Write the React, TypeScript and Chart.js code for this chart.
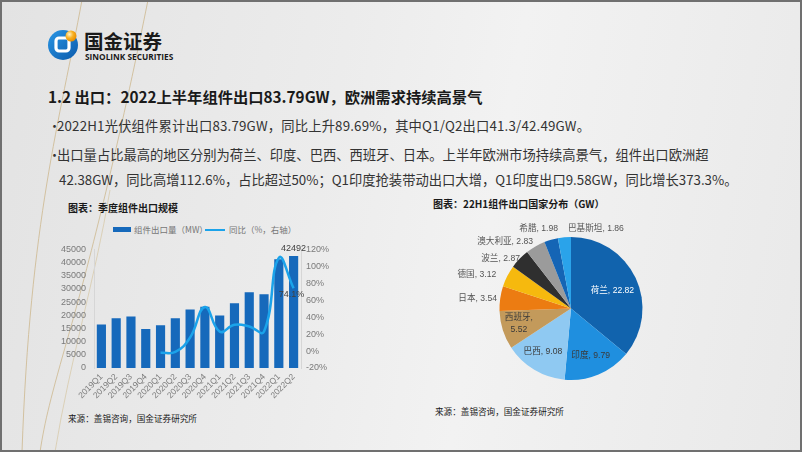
import React, { useEffect, useRef } from "react";
import { Chart, registerables } from "chart.js";

Chart.register(...registerables);

// ---------- data ----------
const quarters = [
  "2019Q1", "2019Q2", "2019Q3", "2019Q4",
  "2020Q1", "2020Q2", "2020Q3", "2020Q4",
  "2021Q1", "2021Q2", "2021Q3", "2021Q4",
  "2022Q1", "2022Q2",
];
const exportVolumeMW = [
  16500, 18900, 19500, 14800,
  16200, 18900, 22200, 23200,
  19900, 24600, 28700, 28000,
  41300, 42492,
];
const yoyPct = [
  null, null, null, null,
  -2, -1, 16, 52,
  23, 31, 29, 23,
  110, 74.1,
];
const leftTicksMax = 45000;
const leftTicksStep = 5000;
const rightTicksMin = -20;
const rightTicksMax = 120;
const rightTicksStep = 20;

const pieCountries = ["荷兰", "印度", "巴西", "西班牙", "日本", "德国", "波兰", "澳大利亚", "希腊", "巴基斯坦"];
const pieValuesGW = [22.82, 9.79, 9.08, 5.52, 3.54, 3.12, 2.87, 2.83, 1.98, 1.86];

// ---------- styles ----------
const BAR_COLOR = "#1669bb";
const LINE_COLOR = "#1ba3ea";
const pieColors = [
  "#1163ad", "#1f8fdf", "#8fc9f2", "#c39a5b", "#ec7c12",
  "#f6b90e", "#2f2f2f", "#9b9b9b", "#1565b5", "#2aa3ea",
];
const pieLabelStyle: any[] = [
  { mode: "in", r: 0.64, color: "#ffffff", dx: 0, dy: 2 },
  { mode: "in", r: 0.715, color: "#3a3a3a", dx: 0, dy: 0 },
  { mode: "in", r: 0.71, color: "#3a3a3a", dx: -2, dy: 0 },
  { mode: "in", r: 0.765, color: "#3a3a3a", dx: 0, dy: -1, wrap: true },
  { mode: "out", r: 1.08, align: "right", dx: 2.5, dy: 1 },
  { mode: "out", r: 1.08, align: "right", dx: -6, dy: 1.5 },
  { mode: "out", r: 1.08, align: "right", dx: 4.5, dy: 4 },
  { mode: "out", r: 1.08, align: "right", dx: 0.5, dy: 0 },
  { mode: "out", r: 1.08, align: "right", dx: 8.5, dy: -5.4 },
  { mode: "out", r: 1.0, align: "left", dx: 3.6, dy: -8.3 },
];
const TICK_FONT = { family: '"Liberation Sans", "Noto Sans CJK SC", sans-serif', size: 9 };
const LABEL_FONT = '8.6px "Liberation Sans", "Noto Sans CJK SC", sans-serif';

const barLabelPlugin = {
  id: "barLabels",
  afterDatasetsDraw(chart: any) {
    const ctx = chart.ctx;
    ctx.save();
    ctx.font = '9px "Liberation Sans", sans-serif';
    ctx.fillStyle = "#404040";
    ctx.textAlign = "center";
    const barMeta = chart.getDatasetMeta(0);
    const last = exportVolumeMW.length - 1;
    const b = barMeta.data[last];
    ctx.textBaseline = "bottom";
    ctx.fillText(String(exportVolumeMW[last]), b.x, b.y - 3);
    const lineMeta = chart.getDatasetMeta(1);
    const p = lineMeta.data[last];
    ctx.textBaseline = "middle";
    ctx.fillText(`${yoyPct[last]}%`, p.x - 2, p.y + 6);
    ctx.restore();
  },
};

const pieLabelPlugin = {
  id: "pieLabels",
  afterDatasetsDraw(chart: any) {
    const ctx = chart.ctx;
    const meta = chart.getDatasetMeta(0);
    ctx.save();
    ctx.font = LABEL_FONT;
    ctx.textBaseline = "middle";
    meta.data.forEach((arc: any, i: number) => {
      const st = pieLabelStyle[i];
      const mid = (arc.startAngle + arc.endAngle) / 2;
      const R = arc.outerRadius;
      const x = arc.x + Math.cos(mid) * R * st.r + st.dx;
      const y = arc.y + Math.sin(mid) * R * st.r + st.dy;
      const text = `${pieCountries[i]}, ${pieValuesGW[i]}`;
      if (st.mode === "in") {
        ctx.fillStyle = st.color;
        ctx.textAlign = "center";
        if (st.wrap) {
          ctx.fillText(`${pieCountries[i]},`, x, y - 6);
          ctx.fillText(`${pieValuesGW[i]}`, x, y + 6);
        } else {
          ctx.fillText(text, x, y);
        }
      } else {
        ctx.fillStyle = "#555555";
        ctx.textAlign = st.align;
        ctx.fillText(text, x, y);
      }
    });
    ctx.restore();
  },
};

function T(props: any) {
  const { x, y, size, weight, color, children, family, h, ls } = props;
  const lh = h || size * 1.4;
  return (
    <div
      style={{
        position: "absolute",
        left: x,
        top: y - lh / 2,
        fontSize: size,
        lineHeight: `${lh}px`,
        fontWeight: weight || 400,
        color: color || "#333",
        whiteSpace: "nowrap",
        letterSpacing: ls || 0,
        fontFamily: family || '"Noto Sans CJK SC", "Noto Sans", sans-serif',
      }}
    >
      {children}
    </div>
  );
}

export default function App() {
  const barRef = useRef<HTMLCanvasElement>(null);
  const pieRef = useRef<HTMLCanvasElement>(null);

  useEffect(() => {
    document.body.style.margin = "0";
    const bar = new Chart(barRef.current as HTMLCanvasElement, {
      type: "bar",
      data: {
        labels: quarters,
        datasets: [
          {
            type: "bar",
            label: "组件出口量（MW）",
            data: exportVolumeMW,
            backgroundColor: BAR_COLOR,
            yAxisID: "y",
            barPercentage: 0.62,
            categoryPercentage: 1,
            order: 2,
          } as any,
          {
            type: "line",
            label: "同比（%，右轴）",
            data: yoyPct,
            borderColor: LINE_COLOR,
            borderWidth: 2.5,
            tension: 0.45,
            pointRadius: 0,
            yAxisID: "y1",
            order: 1,
          } as any,
        ],
      },
      options: {
        animation: false,
        responsive: false,
        maintainAspectRatio: false,
        layout: { padding: { top: 10, left: 0, right: 0, bottom: 0 } },
        plugins: { legend: { display: false }, tooltip: { enabled: false } },
        scales: {
          x: {
            grid: { display: false, drawTicks: false },
            border: { display: false },
            ticks: {
              minRotation: 45,
              maxRotation: 45,
              autoSkip: false,
              font: { ...TICK_FONT, size: 8.5 },
              color: "#7a7a7a",
              padding: 4,
            },
            afterFit: (s: any) => { s.height = 38; },
          },
          y: {
            position: "left",
            min: 0,
            max: leftTicksMax,
            grid: { display: false, drawTicks: false },
            border: { display: true, color: "#d6d6d6" },
            ticks: {
              stepSize: leftTicksStep,
              autoSkip: false,
              font: TICK_FONT,
              color: "#7a7a7a",
              padding: 8,
              callback: (v: any) => String(v),
            },
            afterFit: (s: any) => { s.width = 54; },
          },
          y1: {
            position: "right",
            min: rightTicksMin,
            max: rightTicksMax,
            grid: { display: false, drawTicks: false },
            border: { display: true, color: "#d6d6d6" },
            ticks: {
              stepSize: rightTicksStep,
              autoSkip: false,
              font: TICK_FONT,
              color: "#7a7a7a",
              padding: 5,
              callback: (v: any) => `${v}%`,
            },
            afterFit: (s: any) => { s.width = 39; },
          },
        },
      } as any,
      plugins: [barLabelPlugin],
    });

    const pie = new Chart(pieRef.current as HTMLCanvasElement, {
      type: "pie",
      data: {
        labels: pieCountries,
        datasets: [
          {
            data: pieValuesGW,
            backgroundColor: pieColors,
            borderWidth: 0,
          },
        ],
      },
      options: {
        animation: false,
        responsive: false,
        maintainAspectRatio: false,
        layout: { padding: 19 },
        plugins: { legend: { display: false }, tooltip: { enabled: false } },
      } as any,
      plugins: [pieLabelPlugin],
    });

    return () => {
      bar.destroy();
      pie.destroy();
    };
  }, []);

  return (
    <div
      style={{
        position: "absolute",
        left: 0,
        top: 0,
        width: 802,
        height: 452,
        boxSizing: "border-box",
        border: "2px solid #707070",
        overflow: "hidden",
        background: "linear-gradient(100deg, #e3e3e3 0%, #ececec 40%, #f2f2f2 60%, #e9e9e9 100%)",
        fontFamily: '"Noto Sans CJK SC", sans-serif',
      }}
    >
      <svg width={802} height={452} style={{ position: "absolute", left: -2, top: -2 }}>
        <path d="M82 0 C 60 120, 30 220, 22 452" stroke="#cdb88f" strokeWidth={1} fill="none" opacity={0.8} />
        <path d="M148 0 C 120 140, 90 260, 70 330 S 45 420, 40 452" stroke="#cdb88f" strokeWidth={1} fill="none" opacity={0.8} />
        <path d="M110 190 C 95 280, 70 360, 55 452" stroke="#d6c6a2" strokeWidth={1} fill="none" opacity={0.7} />
        <defs>
          <linearGradient id="lg" x1="0" y1="0" x2="1" y2="1">
            <stop offset="0" stopColor="#2a96e4" />
            <stop offset="1" stopColor="#0b5aab" />
          </linearGradient>
          <radialGradient id="og" cx="0.35" cy="0.35" r="0.7">
            <stop offset="0" stopColor="#fff4c8" />
            <stop offset="0.5" stopColor="#f8b020" />
            <stop offset="1" stopColor="#e58a00" />
          </radialGradient>
        </defs>
        <circle cx={63} cy={45} r={15} fill="url(#lg)" />
        <rect x={56} y={38} width={13} height={13} rx={3} fill="none" stroke="#ffffff" strokeWidth={3.2} />
        <circle cx={71} cy={36} r={5.5} fill="url(#og)" />
      </svg>

      <T x={82} y={39} size={19.5} weight={700} color="#1a1a1a">国金证券</T>
      <T x={83} y={55} size={8.3} weight={700} color="#1a1a1a" family='"Open Sans", "Liberation Sans", sans-serif'>SINOLINK SECURITIES</T>

      <T x={46} y={95} size={15.3} weight={700} color="#1a1a1a">1.2 出口：2022上半年组件出口83.79GW，欧洲需求持续高景气</T>
      <T x={46} y={124} size={13} color="#333">•</T>
      <T x={55} y={124} size={13.3} color="#333" ls={0.18}>2022H1光伏组件累计出口83.79GW，同比上升89.69%，其中Q1/Q2出口41.3/42.49GW。</T>
      <T x={46} y={153} size={13} color="#333">•</T>
      <T x={55} y={153} size={13.3} color="#333">出口量占比最高的地区分别为荷兰、印度、巴西、西班牙、日本。上半年欧洲市场持续高景气，组件出口欧洲超</T>
      <T x={57} y={178} size={13.3} color="#333">42.38GW，同比高增112.6%，占比超过50%；Q1印度抢装带动出口大增，Q1印度出口9.58GW，同比增长373.3%。</T>

      <T x={66} y={206} size={10} weight={700} color="#1a1a1a">图表：季度组件出口规模</T>
      <T x={431} y={202} size={10} weight={700} color="#1a1a1a">图表：22H1组件出口国家分布（GW）</T>

      <div style={{ position: "absolute", left: 111, top: 225, width: 18, height: 5, background: BAR_COLOR }} />
      <T x={132} y={227.5} size={8.5} color="#777">组件出口量（MW）</T>
      <div style={{ position: "absolute", left: 203, top: 226.5, width: 20, height: 2.5, background: LINE_COLOR }} />
      <T x={227} y={227.5} size={8.5} color="#777">同比（%，右轴）</T>

      <canvas ref={barRef} width={300} height={170} style={{ position: "absolute", left: 38, top: 234, width: 300, height: 170 }} />
      <canvas ref={pieRef} width={300} height={181} style={{ position: "absolute", left: 419, top: 216, width: 300, height: 181 }} />

      <T x={66} y={416} size={8.6} color="#1a1a1a">来源：盖锡咨询，国金证券研究所</T>
      <T x={433} y={409} size={8.6} color="#1a1a1a">来源：盖锡咨询，国金证券研究所</T>
    </div>
  );
}
